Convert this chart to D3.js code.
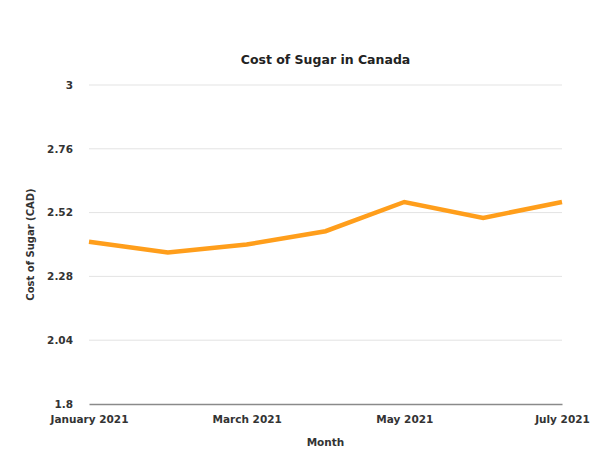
<!DOCTYPE html>
<html>
<head>
<meta charset="utf-8">
<script src="https://cdn.jsdelivr.net/npm/d3@7"></script>
<style>
  html, body { margin: 0; padding: 0; background: #fff; }
  svg { display: block; font-family: "DejaVu Sans", sans-serif; }
</style>
</head>
<body>
<svg id="chart" width="591" height="453"></svg>
<script>
// Monthly cost of sugar (CAD), 2021
const months = ["January 2021", "February 2021", "March 2021", "April 2021", "May 2021", "June 2021", "July 2021"];
const costs = [2.41, 2.37, 2.40, 2.45, 2.56, 2.50, 2.56];
const yTicks = [1.8, 2.04, 2.28, 2.52, 2.76, 3];
const xTickLabels = ["January 2021", "March 2021", "May 2021", "July 2021"];

const svg = d3.select("#chart");
const margin = { left: 89, right: 29, top: 85, bottom: 49 };
const width = 591, height = 453;

const x = d3.scalePoint().domain(months).range([margin.left, width - margin.right]);
const y = d3.scaleLinear().domain([1.8, 3]).range([height - margin.bottom, margin.top]);

// horizontal grid
svg.append("g")
  .selectAll("line")
  .data(yTicks.filter(d => d !== 1.8))
  .join("line")
  .attr("x1", margin.left).attr("x2", width - margin.right)
  .attr("y1", d => y(d)).attr("y2", d => y(d))
  .attr("stroke", "#e3e3e3").attr("stroke-width", 1);

// y axis labels
const yAxis = d3.axisLeft(y).tickValues(yTicks).tickSize(0).tickPadding(16).tickFormat(d3.format(""));
svg.append("g")
  .attr("transform", `translate(${margin.left},0)`)
  .call(yAxis)
  .call(g => g.select(".domain").remove())
  .call(g => g.selectAll("text").attr("font-family", "DejaVu Sans").attr("font-size", 10.5).attr("font-weight", 700).attr("fill", "#333"));

// x axis
const xAxis = d3.axisBottom(x).tickValues(xTickLabels).tickSize(0).tickPadding(12);
svg.append("g")
  .attr("transform", `translate(0,${y(1.8)})`)
  .call(xAxis)
  .call(g => g.select(".domain").attr("stroke", "#8a8a8a").attr("stroke-width", 1.5))
  .call(g => g.selectAll("text").attr("font-family", "DejaVu Sans").attr("font-size", 10.5).attr("font-weight", 700).attr("fill", "#333"));

// line
const line = d3.line().x((d, i) => x(months[i])).y(d => y(d));
svg.append("path")
  .datum(costs)
  .attr("d", line)
  .attr("fill", "none")
  .attr("stroke", "#ff9e1b")
  .attr("stroke-width", 4.5)
  .attr("stroke-linejoin", "miter");

// title
svg.append("text")
  .attr("x", (margin.left + width - margin.right) / 2).attr("y", 64)
  .attr("text-anchor", "middle")
  .attr("font-size", 12.5).attr("font-weight", 700).attr("fill", "#222")
  .text("Cost of Sugar in Canada");

// axis titles
svg.append("text")
  .attr("x", (margin.left + width - margin.right) / 2).attr("y", 446)
  .attr("text-anchor", "middle")
  .attr("font-size", 10.5).attr("font-weight", 700).attr("fill", "#333")
  .text("Month");

svg.append("text")
  .attr("transform", `translate(34,${(margin.top + height - margin.bottom) / 2}) rotate(-90)`)
  .attr("text-anchor", "middle")
  .attr("font-size", 10).attr("font-weight", 700).attr("fill", "#333")
  .text("Cost of Sugar (CAD)");
</script>
</body>
</html>
